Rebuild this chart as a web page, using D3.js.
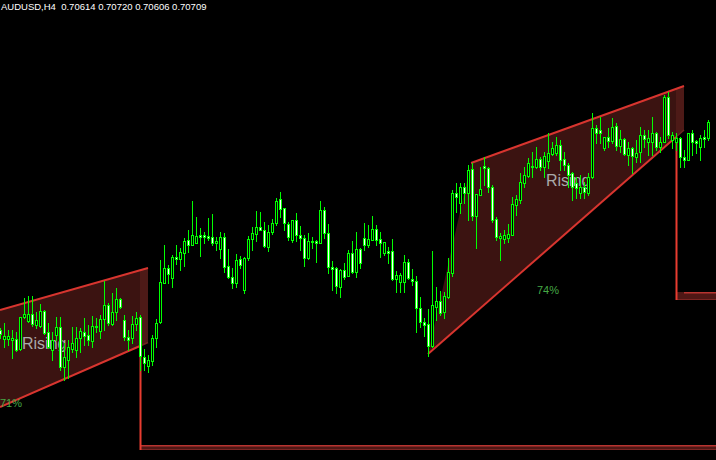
<!DOCTYPE html>
<html><head><meta charset="utf-8">
<script src="https://cdn.jsdelivr.net/npm/d3@7"></script>
<style>html,body{margin:0;padding:0;background:#000;overflow:hidden}svg{display:block}</style>
</head><body>
<svg id="c" width="716" height="460"></svg>
<script>
const symbol = "AUDUSD,H4";
const quote = ["0.70614", "0.70720", "0.70606", "0.70709"];

const openP = [
0.69463,0.69409,0.69409,0.69403,0.69409,0.69349,0.69541,0.69517,0.69559,0.69493,
0.69487,0.69577,0.69451,0.69343,0.69433,0.69481,0.69241,0.69283,0.69349,0.69343,
0.69415,0.69451,0.69433,0.69397,0.69487,0.69457,0.69529,0.69613,0.69499,0.69571,
0.69649,0.69523,0.69421,0.69415,0.69499,0.69541,0.69301,0.69247,0.69277,0.69415,
0.69511,0.69745,0.69835,0.69775,0.69901,0.69889,0.69925,0.70003,0.69973,0.69985,
0.70033,0.70033,0.70027,0.70021,0.69985,0.69949,0.70021,0.69847,0.69781,0.69745,
0.69889,0.69703,0.69895,0.70009,0.70039,0.70081,0.70063,0.69961,0.70051,0.70105,
0.70249,0.70195,0.70099,0.70003,0.70123,0.70033,0.70015,0.69895,0.69997,0.69997,
0.69985,0.70183,0.70045,0.69841,0.69835,0.69721,0.69823,0.69787,0.69925,0.69811,
0.69949,0.70015,0.69973,0.70003,0.70069,0.70009,0.69925,0.69937,0.69937,0.69769,
0.69751,0.69751,0.69871,0.69769,0.69757,0.69595,0.69511,0.69499,0.69367,0.69601,
0.69637,0.69571,0.69661,0.69805,0.70285,0.70225,0.70321,0.70285,0.70429,0.70147,
0.70273,0.70447,0.70435,0.70321,0.70129,0.70015,0.70009,0.70015,0.70033,0.70213,
0.70243,0.70345,0.70387,0.70441,0.70441,0.70489,0.70441,0.70477,0.70519,0.70525,
0.70573,0.70489,0.70453,0.70405,0.70345,0.70285,0.70321,0.70285,0.70381,0.70675,
0.70663,0.70555,0.70621,0.70597,0.70687,0.70567,0.70609,0.70513,0.70555,0.70501,
0.70531,0.70633,0.70591,0.70591,0.70645,0.70561,0.70591,0.70861,0.70603,0.70591,
0.70615,0.70501,0.70483,0.70645,0.70597,0.70561,0.70621,0.70614];

const highP = [
0.69475,0.69505,0.69463,0.69463,0.69451,0.69541,0.69655,0.69667,0.69667,0.69571,
0.69619,0.69583,0.69505,0.69451,0.69541,0.69541,0.69385,0.69403,0.69481,0.69481,
0.69475,0.69535,0.69493,0.69547,0.69535,0.69553,0.69757,0.69625,0.69685,0.69715,
0.69655,0.69553,0.69463,0.69547,0.69571,0.69553,0.69349,0.69313,0.69433,0.69529,
0.69883,0.69973,0.69853,0.69913,0.69973,0.69955,0.70015,0.70063,0.70237,0.70141,
0.70075,0.70051,0.70135,0.70159,0.70021,0.70051,0.70045,0.69949,0.69835,0.69919,
0.69907,0.69901,0.70027,0.70081,0.70177,0.70171,0.70111,0.70093,0.70129,0.70255,
0.70291,0.70195,0.70111,0.70123,0.70165,0.70087,0.70033,0.70045,0.70021,0.70003,
0.70237,0.70201,0.70099,0.69877,0.69841,0.69829,0.69865,0.69943,0.69997,0.70051,
0.69955,0.70105,0.70093,0.70147,0.70093,0.70051,0.69991,0.69961,0.70009,0.69817,
0.69805,0.69913,0.69889,0.69829,0.69787,0.69661,0.69535,0.69589,0.69937,0.69721,
0.69697,0.69691,0.69895,0.70303,0.70345,0.70345,0.70345,0.70453,0.70465,0.70279,
0.70441,0.70501,0.70441,0.70333,0.70141,0.70045,0.70063,0.70099,0.70261,0.70273,
0.70405,0.70441,0.70495,0.70531,0.70561,0.70501,0.70531,0.70645,0.70591,0.70621,
0.70603,0.70531,0.70465,0.70411,0.70381,0.70393,0.70351,0.70405,0.70765,0.70693,
0.70741,0.70621,0.70675,0.70735,0.70705,0.70663,0.70615,0.70591,0.70561,0.70603,
0.70681,0.70663,0.70663,0.70741,0.70651,0.70621,0.70873,0.70891,0.70651,0.70645,
0.70621,0.70543,0.70645,0.70663,0.70603,0.70633,0.70663,0.70720];

const lowP = [
0.69415,0.69361,0.69373,0.69295,0.69337,0.69343,0.69535,0.69511,0.69487,0.69475,
0.69481,0.69439,0.69355,0.69283,0.69403,0.69223,0.69163,0.69175,0.69331,0.69301,
0.69331,0.69373,0.69373,0.69361,0.69451,0.69415,0.69463,0.69493,0.69493,0.69523,
0.69595,0.69403,0.69343,0.69385,0.69463,0.69223,0.69223,0.69211,0.69253,0.69361,
0.69505,0.69745,0.69745,0.69721,0.69859,0.69823,0.69847,0.69931,0.69973,0.69985,
0.69907,0.69985,0.70003,0.69973,0.69943,0.69895,0.69811,0.69775,0.69715,0.69721,
0.69835,0.69685,0.69883,0.69943,0.69997,0.70063,0.69961,0.69937,0.70039,0.70093,
0.70141,0.70063,0.70003,0.69991,0.69997,0.69943,0.69847,0.69889,0.69955,0.69871,
0.69985,0.70015,0.69805,0.69703,0.69685,0.69661,0.69769,0.69787,0.69805,0.69781,
0.69835,0.69943,0.69961,0.70003,0.69973,0.69901,0.69913,0.69865,0.69763,0.69691,
0.69691,0.69691,0.69769,0.69733,0.69451,0.69481,0.69427,0.69307,0.69361,0.69523,
0.69553,0.69535,0.69655,0.69787,0.70171,0.70165,0.70225,0.70123,0.70123,0.69955,
0.70273,0.70333,0.70291,0.70111,0.70003,0.69883,0.69985,0.69991,0.70033,0.70153,
0.70225,0.70321,0.70381,0.70381,0.70435,0.70423,0.70381,0.70435,0.70513,0.70513,
0.70423,0.70423,0.70321,0.70243,0.70255,0.70255,0.70255,0.70273,0.70375,0.70585,
0.70585,0.70543,0.70561,0.70585,0.70543,0.70531,0.70513,0.70453,0.70405,0.70471,
0.70471,0.70561,0.70513,0.70513,0.70543,0.70531,0.70591,0.70615,0.70555,0.70543,
0.70441,0.70441,0.70483,0.70513,0.70525,0.70483,0.70561,0.70606];

const closeP = [
0.69439,0.69427,0.69427,0.69415,0.69343,0.69541,0.69559,0.69559,0.69499,0.69523,
0.69577,0.69445,0.69361,0.69403,0.69481,0.69241,0.69301,0.69361,0.69385,0.69415,
0.69457,0.69427,0.69403,0.69487,0.69481,0.69529,0.69613,0.69505,0.69571,0.69649,
0.69601,0.69421,0.69403,0.69499,0.69535,0.69307,0.69265,0.69283,0.69415,0.69505,
0.69751,0.69835,0.69799,0.69901,0.69889,0.69931,0.69997,0.69973,0.70033,0.70027,
0.70021,0.70021,0.70015,0.69985,0.69997,0.70021,0.69841,0.69781,0.69745,0.69883,
0.69853,0.69895,0.70009,0.70045,0.70081,0.70063,0.69967,0.70051,0.70105,0.70237,
0.70189,0.70105,0.70021,0.70123,0.70033,0.70015,0.69895,0.69997,0.69991,0.69985,
0.70183,0.70045,0.69841,0.69829,0.69727,0.69823,0.69781,0.69925,0.69811,0.69949,
0.69865,0.69973,0.70009,0.70069,0.70003,0.69985,0.69991,0.69925,0.69769,0.69793,
0.69793,0.69871,0.69775,0.69757,0.69595,0.69511,0.69493,0.69367,0.69613,0.69637,
0.69565,0.69667,0.69811,0.70285,0.70261,0.70321,0.70285,0.70423,0.70147,0.70279,
0.70309,0.70435,0.70321,0.70123,0.70021,0.70027,0.70033,0.70039,0.70219,0.70249,
0.70351,0.70393,0.70465,0.70447,0.70489,0.70441,0.70507,0.70525,0.70555,0.70573,
0.70483,0.70453,0.70393,0.70321,0.70315,0.70321,0.70291,0.70381,0.70675,0.70645,
0.70645,0.70621,0.70597,0.70681,0.70567,0.70609,0.70519,0.70555,0.70507,0.70525,
0.70633,0.70609,0.70615,0.70645,0.70561,0.70591,0.70861,0.70633,0.70633,0.70615,
0.70501,0.70483,0.70645,0.70591,0.70585,0.70615,0.70609,0.70709];

// Rising wedge patterns: [startIndex, startPrice, endIndex, endPrice]
const wedgeUpper = [[0, 0.69583, 37, 0.69835], [117.75, 0.70465, 171, 0.70927]];
const wedgeLower = [[0, 0.69001, 37, 0.69388], [107, 0.69319, 171, 0.70663]];
const wedgeBodyEnd = [35, 169];
const wedgeTarget = [0.68773, 0.69691];
const wedgeName = ["Rising", "Rising"];
const wedgePct = ["71%", "74%"];

const W = 716, H = 460;
const svg = d3.select("#c");
const x = d3.scaleLinear().domain([0, openP.length - 1]).range([0, 708]);
const y = d3.scaleLinear().domain([0.68683, 0.71443]).range([H, 0]);

svg.append("rect").attr("width", W).attr("height", H).attr("fill", "#000");

const at = (l, i) => l[1] + (l[3] - l[1]) * (i - l[0]) / (l[2] - l[0]);
const P = (i, p) => [x(i), y(p)];

const gW = svg.append("g");
wedgeUpper.forEach((u, k) => {
  const lo = wedgeLower[k], e = wedgeBodyEnd[k], e2 = u[2];
  const pts = [P(lo[0], lo[1]), P(u[0], u[1]), P(e, at(u, e)), P(e, at(lo, e))];
  gW.append("polygon").attr("points", pts.map(p => p.join(",")).join(" "))
    .attr("fill", "#3b1311");
  const s = [P(e, at(u, e)), P(e2, at(u, e2)), P(e2, at(lo, e2)), P(e, at(lo, e))];
  gW.append("polygon").attr("points", s.map(p => p.join(",")).join(" "))
    .attr("fill", "#4d1a17");
  gW.append("line").attr("x1", x(e2)).attr("y1", y(at(lo, e2))).attr("x2", x(e)).attr("y2", y(at(lo, e)))
    .attr("stroke", "#6e2320").attr("stroke-width", 1.5);
  const yt = Math.round(y(wedgeTarget[k]));
  const xe = Math.round(x(e));
  const thick = k === 0 ? 5 : 8;
  gW.append("rect").attr("x", xe).attr("y", yt).attr("width", W - xe).attr("height", thick)
    .attr("fill", "#4f1715");
  gW.append("rect").attr("x", xe + (k === 0 ? 0 : 8)).attr("y", yt).attr("width", W - xe).attr("height", 1.5)
    .attr("fill", "#b83430");
  gW.append("rect").attr("x", xe).attr("y", yt + thick - 1).attr("width", W - xe).attr("height", 1)
    .attr("fill", "#7a2522");
  gW.append("line").attr("x1", xe + 0.5).attr("x2", xe + 0.5)
    .attr("y1", y(at(lo, e))).attr("y2", yt + thick)
    .attr("stroke", "#e83c30").attr("stroke-width", 2);
});

// labels (under candles)
const labelPos = [[5.5, 0.69349, 0, 0.69001], [136.5, 0.70327, 134.25, 0.69679]];
labelPos.forEach((lp, k) => {
  svg.append("text").attr("x", x(lp[0])).attr("y", y(lp[1]))
    .attr("font-family", "Liberation Sans, Arial, sans-serif").attr("font-size", 16)
    .attr("fill", "#a9a9a9").text(wedgeName[k]);
  svg.append("text").attr("x", x(lp[2])).attr("y", y(lp[3]))
    .attr("font-family", "Liberation Sans, Arial, sans-serif").attr("font-size", 11)
    .attr("fill", "#45a845").text(wedgePct[k]);
});

// wedge edge lines
wedgeUpper.forEach((u, k) => {
  const lo = wedgeLower[k], e = wedgeBodyEnd[k];
  gW.append("line").attr("x1", x(u[0])).attr("y1", y(u[1])).attr("x2", x(u[2])).attr("y2", y(u[3]))
    .attr("stroke", "#d8352f").attr("stroke-width", 2);
  gW.append("line").attr("x1", x(lo[0])).attr("y1", y(lo[1])).attr("x2", x(e)).attr("y2", y(at(lo, e)))
    .attr("stroke", "#d8352f").attr("stroke-width", 2);
});

// candles
const gC = svg.append("g").attr("shape-rendering", "crispEdges");
openP.forEach((o, i) => {
  const c = closeP[i], X = Math.round(x(i));
  const yh = Math.round(y(highP[i])), yl = Math.round(y(lowP[i]));
  const yo = Math.round(y(o)), yc = Math.round(y(c));
  const top = Math.min(yo, yc), bot = Math.max(yo, yc);
  gC.append("rect").attr("x", X).attr("y", yh).attr("width", 1).attr("height", yl - yh + 1).attr("fill", "#00ff00");
  gC.append("rect").attr("x", X - 1).attr("y", top).attr("width", 3).attr("height", bot - top + 1).attr("fill", "#00ff00");
  if (bot - top >= 2) {
    gC.append("rect").attr("x", X).attr("y", top + 1).attr("width", 1).attr("height", bot - top - 1)
      .attr("fill", c < o ? "#ffffff" : "#000000");
  }
});

svg.append("text").attr("x", 1).attr("y", 10)
  .attr("font-family", "Liberation Sans, Arial, sans-serif").attr("font-size", 9.5)
  .attr("fill", "#ffffff").style("white-space", "pre")
  .text(symbol + "  " + quote.join(" "));
</script>
</body></html>
